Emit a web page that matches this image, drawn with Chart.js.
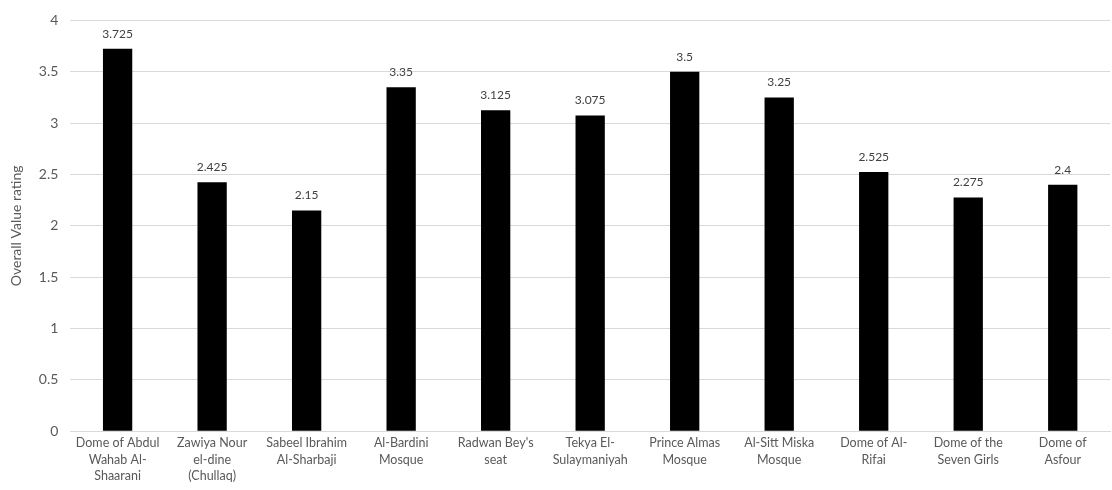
<!DOCTYPE html>
<html>
<head>
<meta charset="utf-8">
<script src="https://cdn.jsdelivr.net/npm/chart.js@4/dist/chart.umd.min.js"></script>
<style>
  html, body { margin: 0; padding: 0; background: #fff; }
  #wrap { width: 1112px; height: 490px; }
</style>
</head>
<body>
<div id="wrap"><canvas id="barChart"></canvas></div>
<script>
var sites = [
  ["Dome of Abdul", "Wahab Al-", "Shaarani"],
  ["Zawiya Nour", "el-dine", "(Chullaq)"],
  ["Sabeel Ibrahim", "Al-Sharbaji"],
  ["Al-Bardini", "Mosque"],
  ["Radwan Bey's", "seat"],
  ["Tekya El-", "Sulaymaniyah"],
  ["Prince Almas", "Mosque"],
  ["Al-Sitt Miska", "Mosque"],
  ["Dome of Al-", "Rifai"],
  ["Dome of the", "Seven Girls"],
  ["Dome of", "Asfour"]
];
var ratings = [3.725, 2.425, 2.15, 3.35, 3.125, 3.075, 3.5, 3.25, 2.525, 2.275, 2.4];
var yTicks = [0, 0.5, 1, 1.5, 2, 2.5, 3, 3.5, 4];

Chart.defaults.font.family = "Lato, 'Open Sans', sans-serif";

// draws the value above each bar
var valueLabels = {
  id: 'valueLabels',
  afterDatasetsDraw: function(chart) {
    var ctx = chart.ctx;
    var meta = chart.getDatasetMeta(0);
    ctx.save();
    ctx.font = "12px Lato, sans-serif";
    ctx.fillStyle = "#404040";
    ctx.textAlign = "center";
    ctx.textBaseline = "bottom";
    meta.data.forEach(function(bar, i) {
      ctx.fillText(String(ratings[i]), bar.x, bar.y - 9);
    });
    ctx.restore();
  }
};

var chart = new Chart(document.getElementById('barChart'), {
  type: 'bar',
  data: {
    labels: sites,
    datasets: [{
      data: ratings,
      backgroundColor: '#000000',
      borderColor: '#000000',
      barPercentage: 0.31,
      categoryPercentage: 1
    }]
  },
  options: {
    responsive: true,
    maintainAspectRatio: false,
    animation: false,
    layout: { padding: { top: -11, right: 2, left: 8, bottom: 2 } },
    plugins: {
      legend: { display: false },
      tooltip: { enabled: false }
    },
    scales: {
      x: {
        grid: { display: false, drawTicks: false },
        border: { color: '#d9d9d9', width: 1 },
        ticks: {
          color: '#595959',
          font: { size: 12.5, lineHeight: 1.3 },
          padding: 4,
          maxRotation: 0,
          autoSkip: false
        }
      },
      y: {
        min: 0,
        max: 4,
        afterBuildTicks: function(axis) {
          axis.ticks = yTicks.map(function(v) { return { value: v }; });
        },
        grid: { color: '#d9d9d9', drawTicks: false },
        border: { display: false },
        ticks: {
          color: '#595959',
          font: { size: 14 },
          padding: 12,
          callback: function(v) { return String(v); }
        },
        title: {
          display: true,
          text: 'Overall Value rating',
          color: '#595959',
          font: { size: 14 },
          padding: { top: 0, bottom: 2 }
        }
      }
    }
  },
  plugins: [valueLabels]
});
</script>
</body>
</html>
